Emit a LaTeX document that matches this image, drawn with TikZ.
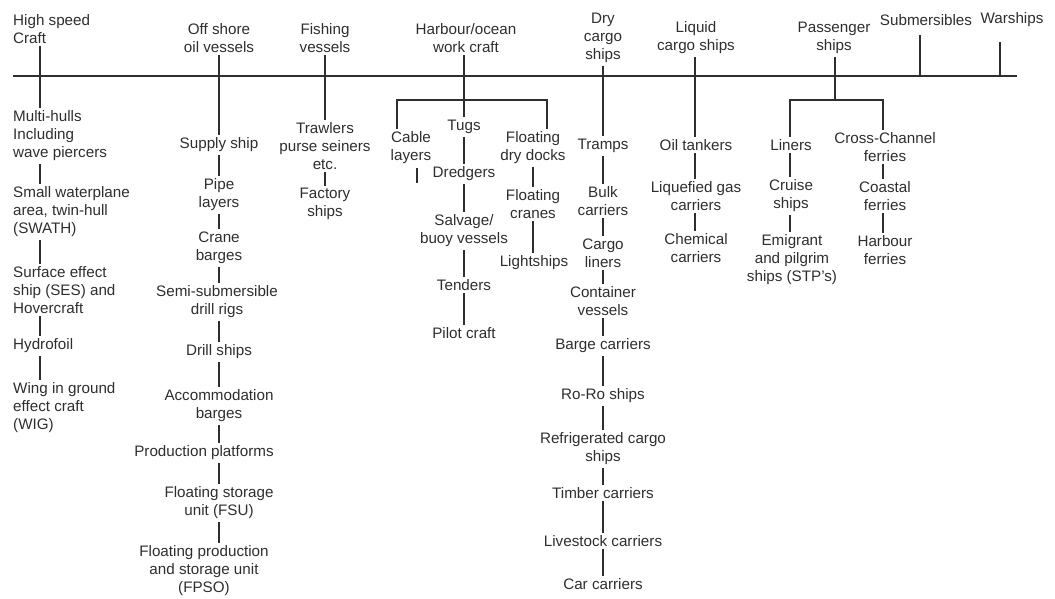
\documentclass[tikz,border=0pt]{standalone}
\usepackage{fontspec}
\setmainfont{Liberation Sans}
\definecolor{ink}{HTML}{2E2E2E}
\tikzset{
  lbl/.style={font=\fontsize{15.2}{18}\selectfont, text=ink, align=center, inner xsep=0pt, inner ysep=2.5pt, yshift=-2pt},
  lbll/.style={lbl, align=left, anchor=west},
  conn/.style={draw=ink, line width=1.1pt},
}
\begin{document}
\begin{tikzpicture}[x=1pt,y=-1pt]
\useasboundingbox (0,0) rectangle (1055,598);
% x positions of the trunks
\coordinate (xhs) at (40,0);
\coordinate (xoff) at (219,0);
\coordinate (xfish) at (325,0);
\coordinate (xharb) at (464,0);
\coordinate (xfdd) at (533,0);
\coordinate (xdry) at (603,0);
\coordinate (xliq) at (695,0);
\coordinate (xpass) at (835,0);
\coordinate (xlin) at (790,0);
\coordinate (xcross) at (883,0);
\coordinate (xsub) at (920,0);
\coordinate (xwar) at (1000,0);
% main line
\coordinate (hl) at (13,76);
\coordinate (hr) at (1017,76);
\draw[conn] (hl) -- (hr);

% top categories
\node[lbll] (hs) at (13,27) {High speed\\Craft};
\node[lbl] (off) at (219,36) {Off shore\\oil vessels};
\node[lbl] (fish) at (325,36) {Fishing\\vessels};
\node[lbl] (harb) at (466,36) {Harbour/ocean\\work craft};
\node[lbl] (dry) at (603,36) {Dry\\cargo\\ships};
\node[lbl] (liq) at (696,36) {Liquid\\cargo ships};
\node[lbl] (pass) at (834,36) {Passenger\\ships};
\node[lbl] (sub) at (926,18) {Submersibles};
\node[lbl] (war) at (1012,18) {Warships};

% high speed craft
\node[lbll] (mh) at (13,134) {Multi-hulls\\Including\\wave piercers};
\node[lbll] (sw) at (13,210) {Small waterplane\\area, twin-hull\\(SWATH)};
\node[lbll] (ses) at (13,288) {Surface effect\\ship (SES) and\\Hovercraft};
\node[lbll] (hyd) at (13,344) {Hydrofoil};
\node[lbll] (wig) at (13,406) {Wing in ground\\effect craft\\(WIG)};
\draw[conn] (hs.south -| xhs) -- (mh.north -| xhs);
\draw[conn] (mh.south -| xhs) -- (sw.north -| xhs);
\draw[conn] (sw.south -| xhs) -- (ses.north -| xhs);
\draw[conn] (ses.south -| xhs) -- (hyd.north -| xhs);
\draw[conn] (hyd.south -| xhs) -- (wig.north -| xhs);

% off shore oil vessels
\node[lbl] (sup) at (219,143) {Supply ship};
\node[lbl] (pipe) at (219,193) {Pipe\\layers};
\node[lbl] (crane) at (219,246) {Crane\\barges};
\node[lbl] (semi) at (217,300) {Semi-submersible\\drill rigs};
\node[lbl] (drill) at (219,350) {Drill ships};
\node[lbl] (acc) at (219,404) {Accommodation\\barges};
\node[lbl] (prod) at (204,451) {Production platforms};
\node[lbl] (fsu) at (219,501) {Floating storage\\unit (FSU)};
\node[lbl] (fpso) at (204,569) {Floating production\\and storage unit\\(FPSO)};
\draw[conn] (off.south -| xoff) -- (sup.north -| xoff);
\draw[conn] (sup.south -| xoff) -- (pipe.north -| xoff);
\draw[conn] (pipe.south -| xoff) -- (crane.north -| xoff);
\draw[conn] (crane.south -| xoff) -- (semi.north -| xoff);
\draw[conn] (semi.south -| xoff) -- (drill.north -| xoff);
\draw[conn] (drill.south -| xoff) -- (acc.north -| xoff);
\draw[conn] (acc.south -| xoff) -- (prod.north -| xoff);
\draw[conn] (prod.south -| xoff) -- (fsu.north -| xoff);
\draw[conn] (fsu.south -| xoff) -- (fpso.north -| xoff);

% fishing vessels
\node[lbl] (traw) at (325,144) {Trawlers\\purse seiners\\etc.};
\node[lbl] (fact) at (325,202) {Factory\\ships};
\draw[conn] (fish.south -| xfish) -- (traw.north -| xfish);
\draw[conn] (traw.south -| xfish) -- (fact.north -| xfish);

% harbour / ocean work craft
\node[lbl] (tugs) at (464,125) {Tugs};
\node[lbl] (dred) at (464,172) {Dredgers};
\node[lbl] (salv) at (464,229) {Salvage/\\buoy vessels};
\node[lbl] (tend) at (464,283) {Tenders};
\node[lbl] (pilot) at (464,331) {Pilot craft};
\node[lbl] (cable) at (411,146) {Cable\\layers};
\node[lbl] (fdd) at (533,146) {Floating\\dry docks};
\node[lbl] (fcr) at (533,202) {Floating\\cranes};
\node[lbl] (light) at (534,261) {Lightships};
\coordinate (hbl) at (397,100);
\coordinate (hbr) at (547,100);
\coordinate (cabtop) at (417,168);
\coordinate (cabend) at (417,183);
\draw[conn] (harb.south -| xharb) -- (tugs.north -| xharb);
\draw[conn] (cable.north -| hbl) -- (hbl) -- (hbr) -- (fdd.north -| hbr);
\draw[conn] (cabtop) -- (cabend);
\draw[conn] (tugs.south -| xharb) -- (dred.north -| xharb);
\draw[conn] (dred.south -| xharb) -- (salv.north -| xharb);
\draw[conn] (salv.south -| xharb) -- (tend.north -| xharb);
\draw[conn] (tend.south -| xharb) -- (pilot.north -| xharb);
\draw[conn] (fdd.south -| xfdd) -- (fcr.north -| xfdd);
\draw[conn] (fcr.south -| xfdd) -- (light.north -| xfdd);

% dry cargo ships
\node[lbl] (tramps) at (603,144) {Tramps};
\node[lbl] (bulk) at (603,199) {Bulk\\carriers};
\node[lbl] (cargo) at (603,251) {Cargo\\liners};
\node[lbl] (cont) at (603,299) {Container\\vessels};
\node[lbl] (barge) at (603,344) {Barge carriers};
\node[lbl] (roro) at (603,394) {Ro-Ro ships};
\node[lbl] (refr) at (603,447) {Refrigerated cargo\\ships};
\node[lbl] (timber) at (603,491) {Timber carriers};
\node[lbl] (live) at (603,539) {Livestock carriers};
\node[lbl] (car) at (603,582) {Car carriers};
\draw[conn] (dry.south -| xdry) -- (tramps.north -| xdry);
\draw[conn] (tramps.south -| xdry) -- (bulk.north -| xdry);
\draw[conn] (bulk.south -| xdry) -- (cargo.north -| xdry);
\draw[conn] (cargo.south -| xdry) -- (cont.north -| xdry);
\draw[conn] (cont.south -| xdry) -- (barge.north -| xdry);
\draw[conn] (barge.south -| xdry) -- (roro.north -| xdry);
\draw[conn] (roro.south -| xdry) -- (refr.north -| xdry);
\draw[conn] (refr.south -| xdry) -- (timber.north -| xdry);
\draw[conn] (timber.south -| xdry) -- (live.north -| xdry);
\draw[conn] (live.south -| xdry) -- (car.north -| xdry);

% liquid cargo ships
\node[lbl] (oil) at (696,143) {Oil tankers};
\node[lbl] (lpg) at (696,194) {Liquefied gas\\carriers};
\node[lbl] (chem) at (696,246) {Chemical\\carriers};
\draw[conn] (liq.south -| xliq) -- (oil.north -| xliq);
\draw[conn] (oil.south -| xliq) -- (lpg.north -| xliq);
\draw[conn] (lpg.south -| xliq) -- (chem.north -| xliq);

% passenger ships
\node[lbl] (liners) at (791,143) {Liners};
\node[lbl] (cruise) at (791,194) {Cruise\\ships};
\node[lbl] (emig) at (792,258) {Emigrant\\and pilgrim\\ships (STP's)};
\node[lbl] (cross) at (885,145) {Cross-Channel\\ferries};
\node[lbl] (coast) at (885,194) {Coastal\\ferries};
\node[lbl] (hferry) at (885,248) {Harbour\\ferries};
\coordinate (pbl) at (790,100);
\coordinate (pbr) at (883,100);
\draw[conn] (pass.south -| xpass) -- (xpass |- pbl);
\draw[conn] (liners.north -| pbl) -- (pbl) -- (pbr) -- (cross.north -| pbr);
\draw[conn] (liners.south -| xlin) -- (cruise.north -| xlin);
\draw[conn] (cruise.south -| xlin) -- (emig.north -| xlin);
\draw[conn] (cross.south -| xcross) -- (coast.north -| xcross);
\draw[conn] (coast.south -| xcross) -- (hferry.north -| xcross);

% submersibles, warships
\draw[conn, shorten <=7pt] (sub.south -| xsub) -- (xsub |- hl);
\draw[conn, shorten <=12pt] (war.south -| xwar) -- (xwar |- hl);
\end{tikzpicture}
\end{document}
